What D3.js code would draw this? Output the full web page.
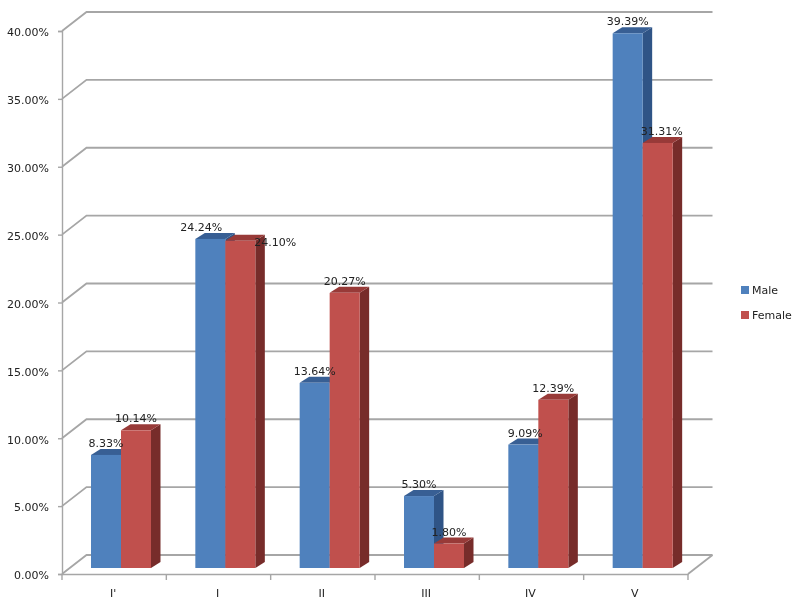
<!DOCTYPE html>
<html>
<head>
<meta charset="utf-8">
<script src="https://cdn.jsdelivr.net/npm/d3@7"></script>
<style>
  html, body { margin: 0; background: #fff; }
  svg { filter: blur(0.35px); }
  text { font-family: "DejaVu Sans", sans-serif; font-size: 11px; fill: #222; }
</style>
</head>
<body>
<div id="chart"></div>
<script>
var categories = ["I'", "I", "II", "III", "IV", "V"];
var male = [8.33, 24.24, 13.64, 5.30, 9.09, 39.39];
var female = [10.14, 24.10, 20.27, 1.80, 12.39, 31.31];
var yTicks = [0, 5, 10, 15, 20, 25, 30, 35, 40];
var seriesNames = ["Male", "Female"];

var width = 795, height = 602;
var colors = [
  { front: "#4f81bd", top: "#385f94", side: "#2f5486" },
  { front: "#c0504d", top: "#983a38", side: "#772c2a" }
];

var svg = d3.select("#chart").append("svg")
  .attr("width", width)
  .attr("height", height);

var y = d3.scaleLinear().domain([0, 40]).range([574, 31]);
var x = d3.scaleBand().domain(categories).range([62, 688]);
var series = d3.scaleBand().domain(seriesNames).range([29, 89]);

// wall offset and bar offset for the fake 3d
var wallX = 24.5, wallY = -19;
var barDx = 9.5, barDy = -6, barLift = -6;

// labels that were dragged aside in the original
var labelNudge = { "24.24": [-9, 0], "24.10": [35, 13], "31.31": [4, 0], "9.09": [2, 0] };

var wall = svg.append("g")
  .attr("stroke", "#a6a6a6")
  .attr("stroke-width", 1.8)
  .attr("fill", "none");

wall.selectAll("path.grid")
  .data(yTicks)
  .enter()
  .append("path")
  .attr("class", "grid")
  .attr("d", function(d){
    var p = d3.path();
    p.moveTo(62, y(d));
    p.lineTo(62 + wallX, y(d) + wallY);
    p.lineTo(688 + wallX, y(d) + wallY);
    return p.toString();
  });

// floor, right edge
wall.append("path")
  .attr("d", "M688," + y(0) + "L" + (688 + wallX) + "," + (y(0) + wallY));

var yAxis = d3.axisLeft(y)
  .tickValues(yTicks)
  .tickFormat(function(d){ return d.toFixed(2) + "%"; })
  .tickSize(4)
  .tickPadding(9);

var yG = svg.append("g")
  .attr("transform", "translate(62,0)")
  .call(yAxis);

var xAxis = d3.axisBottom(x)
  .tickValues([])
  .tickSizeOuter(0);

var xG = svg.append("g")
  .attr("transform", "translate(0," + y(0) + ")")
  .call(xAxis);

xG.selectAll("path.tickmark")
  .data(categories.concat(["end"]))
  .enter()
  .append("path")
  .attr("class", "tickmark")
  .attr("d", function(d, i){
    var px = 62 + i * x.step();
    return "M" + px + ",0V6";
  });

xG.selectAll("text.cat")
  .data(categories)
  .enter()
  .append("text")
  .attr("class", "cat")
  .attr("x", function(d){ return x(d) + x.bandwidth() / 2 - 1; })
  .attr("y", 23)
  .attr("text-anchor", "middle")
  .text(function(d){ return d; });

svg.selectAll(".domain, .tick line, path.tickmark")
  .attr("stroke", "#a6a6a6")
  .attr("stroke-width", 1.4)
  .attr("fill", "none");

yG.selectAll(".tick text").attr("dy", "0.62em").attr("y", 0).style("font-size", "11px");
yG.selectAll(".tick text").attr("transform", "translate(0,-2)");

var values = [male, female];

seriesNames.forEach(function(name, s){
  var bars = svg.append("g").attr("class", "series-" + s);
  var g = bars.selectAll("g")
    .data(values[s])
    .enter()
    .append("g");

  function left(d, i){ return x(categories[i]) + series(name); }
  function top(d){ return y(d) + barLift; }
  var base = y(0) + barLift;
  var w = series.bandwidth();

  g.append("path")
    .attr("fill", colors[s].side)
    .attr("d", function(d, i){
      var r = left(d, i) + w;
      return "M" + r + "," + top(d) + "l" + barDx + "," + barDy + "V" + (base + barDy) + "L" + r + "," + base + "Z";
    });

  g.append("path")
    .attr("fill", colors[s].top)
    .attr("d", function(d, i){
      var l = left(d, i);
      return "M" + l + "," + top(d) + "l" + barDx + "," + barDy + "h" + w + "l" + (-barDx) + "," + (-barDy) + "Z";
    });

  g.append("rect")
    .attr("fill", colors[s].front)
    .attr("x", left)
    .attr("y", top)
    .attr("width", w)
    .attr("height", function(d){ return base - top(d); });
});

// labels go on top of all the bars
seriesNames.forEach(function(name, s){
  svg.append("g").selectAll("text")
    .data(values[s])
    .enter()
    .append("text")
    .attr("text-anchor", "middle")
    .attr("x", function(d, i){
      var nudge = labelNudge[d.toFixed(2)] || [0, 0];
      return x(categories[i]) + series(name) + series.bandwidth() / 2 + nudge[0];
    })
    .attr("y", function(d){
      var nudge = labelNudge[d.toFixed(2)] || [0, 0];
      return y(d) + barLift - 8 + nudge[1];
    })
    .text(function(d){ return d.toFixed(2) + "%"; });
});

var legend = svg.append("g").selectAll("g")
  .data(seriesNames)
  .enter()
  .append("g")
  .attr("transform", function(d, i){ return "translate(741," + (286 + i * 25) + ")"; });

legend.append("rect")
  .attr("width", 8)
  .attr("height", 8)
  .attr("fill", function(d, i){ return colors[i].front; });

legend.append("text")
  .attr("x", 11)
  .attr("y", 8)
  .text(function(d){ return d; });
</script>
</body>
</html>
